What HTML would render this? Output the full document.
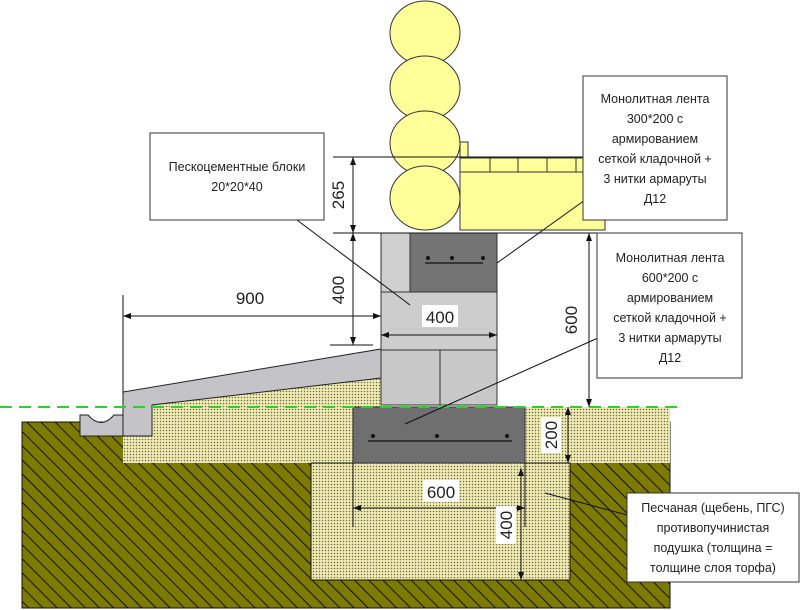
<!DOCTYPE html>
<html><head><meta charset="utf-8"><style>
html,body{margin:0;padding:0;background:#fff}
svg{display:block}
text{font-family:"Liberation Sans",sans-serif;fill:#222}
</style></head><body>
<svg width="800" height="610" viewBox="0 0 800 610" xmlns="http://www.w3.org/2000/svg">
<defs>
<pattern id="hatch" width="10" height="10" patternUnits="userSpaceOnUse" patternTransform="rotate(-45)">
<rect width="10" height="10" fill="#7d7a00"/>
<line x1="0" y1="0" x2="0" y2="10" stroke="#111" stroke-width="2"/>
</pattern>
<pattern id="sand" width="3" height="3" patternUnits="userSpaceOnUse">
<rect width="3" height="3" fill="#efeab0"/>
<circle cx="1.5" cy="1.5" r="0.75" fill="#6e6b50"/>
</pattern>
<marker id="ar" markerWidth="8" markerHeight="6" refX="8" refY="3" orient="auto-start-reverse" markerUnits="userSpaceOnUse">
<path d="M0,0 L8,3 L0,6 z" fill="#111"/>
</marker>
</defs>

<rect x="22" y="422" width="648" height="186" fill="url(#hatch)" stroke="#111"/>
<polygon points="123,395 381,350 381,407 670,407 670,463 123,463" fill="url(#sand)"/>
<rect x="311" y="463" width="259" height="117" fill="url(#sand)" stroke="#111"/>
<rect x="353" y="407" width="172" height="56" fill="#6f6f6f" stroke="#333"/>
<circle cx="373" cy="436" r="2" fill="#111"/><circle cx="437" cy="436" r="2" fill="#111"/><circle cx="507" cy="436" r="2" fill="#111"/>
<line x1="368" y1="441" x2="512" y2="441" stroke="#111" stroke-width="1.2"/>

<polygon points="123,392 381,349 381,378 152,405 152,436 123,436" fill="#c4c4c8" stroke="#222"/>
<path d="M80,415 L88,415 Q101,430 114,415 L123,415 L123,436 L80,436 Z" fill="#c4c4c8" stroke="#222"/>

<rect x="381" y="233" width="116" height="172" fill="#c8c8c8" stroke="#333"/>
<rect x="381" y="233" width="29" height="59" fill="#cfcfcf" stroke="#333"/>
<rect x="410" y="233" width="87" height="59" fill="#747474" stroke="#333"/>
<rect x="381" y="292" width="116" height="58" fill="#cdcdcd" stroke="#333"/>
<line x1="440" y1="350" x2="440" y2="405" stroke="#333"/>
<circle cx="428" cy="258" r="2" fill="#111"/><circle cx="452" cy="258" r="2" fill="#111"/><circle cx="483" cy="258" r="2" fill="#111"/>
<line x1="425" y1="263" x2="483" y2="263" stroke="#111" stroke-width="1.2"/>

<line x1="0" y1="407" x2="680" y2="407" stroke="#3c3" stroke-width="2" stroke-dasharray="12,7"/>

<rect x="460" y="142" width="8" height="16" fill="#ffff99" stroke="#333"/>
<rect x="460" y="158" width="145" height="72" fill="#ffff99" stroke="#333"/>
<line x1="460" y1="172" x2="605" y2="172" stroke="#333"/>
<line x1="490" y1="158" x2="490" y2="172" stroke="#333"/><line x1="518" y1="158" x2="518" y2="172" stroke="#333"/>
<line x1="547" y1="158" x2="547" y2="172" stroke="#333"/><line x1="576" y1="158" x2="576" y2="172" stroke="#333"/>
<ellipse cx="425" cy="33" rx="35" ry="32" fill="#ffff99" stroke="#333"/>
<ellipse cx="425" cy="88" rx="35" ry="32" fill="#ffff99" stroke="#333"/>
<ellipse cx="425" cy="143" rx="35" ry="32" fill="#ffff99" stroke="#333"/>
<ellipse cx="425" cy="198" rx="35" ry="32" fill="#ffff99" stroke="#333"/>

<line x1="333" y1="157" x2="590" y2="157" stroke="#111"/>
<line x1="333" y1="233" x2="600" y2="233" stroke="#111"/>
<line x1="353" y1="157" x2="353" y2="233" stroke="#111" marker-start="url(#ar)" marker-end="url(#ar)"/>
<line x1="353" y1="233" x2="353" y2="345" stroke="#111" marker-start="url(#ar)" marker-end="url(#ar)"/>
<line x1="330" y1="345" x2="373" y2="345" stroke="#111"/>
<text transform="translate(344,195) rotate(-90)" font-size="17" text-anchor="middle">265</text>
<text transform="translate(344,290) rotate(-90)" font-size="17" text-anchor="middle">400</text>
<line x1="123" y1="295" x2="123" y2="395" stroke="#111"/>
<line x1="123" y1="316" x2="381" y2="316" stroke="#111" marker-start="url(#ar)" marker-end="url(#ar)"/>
<text x="250" y="304" font-size="17" text-anchor="middle">900</text>
<line x1="381" y1="335" x2="497" y2="335" stroke="#111" marker-start="url(#ar)" marker-end="url(#ar)"/>
<rect x="422" y="305" width="36" height="22" fill="#fff"/>
<text x="440" y="323" font-size="17" text-anchor="middle">400</text>
<line x1="589" y1="233" x2="589" y2="407" stroke="#111" marker-start="url(#ar)" marker-end="url(#ar)"/>
<text transform="translate(577,320) rotate(-90)" font-size="17" text-anchor="middle">600</text>
<line x1="568" y1="407" x2="568" y2="463" stroke="#111" marker-start="url(#ar)" marker-end="url(#ar)"/>
<rect x="541" y="417" width="20" height="36" fill="#fff"/>
<text transform="translate(557,435) rotate(-90)" font-size="17" text-anchor="middle">200</text>
<line x1="353" y1="463" x2="353" y2="527" stroke="#111"/>
<line x1="525" y1="463" x2="525" y2="527" stroke="#111"/>
<line x1="353" y1="508" x2="525" y2="508" stroke="#111" marker-start="url(#ar)" marker-end="url(#ar)"/>
<rect x="423" y="480" width="36" height="22" fill="#fff"/>
<text x="441" y="498" font-size="17" text-anchor="middle">600</text>
<line x1="521" y1="468" x2="521" y2="580" stroke="#111" marker-start="url(#ar)" marker-end="url(#ar)"/>
<rect x="496" y="506" width="20" height="38" fill="#fff"/>
<text transform="translate(512,525) rotate(-90)" font-size="17" text-anchor="middle">400</text>

<line x1="297" y1="220" x2="410" y2="305" stroke="#111"/>
<line x1="585" y1="200" x2="497" y2="263" stroke="#111"/>
<line x1="598" y1="338" x2="405" y2="424" stroke="#111"/>
<line x1="627" y1="515" x2="545" y2="493" stroke="#111"/>

<rect x="150" y="133" width="174" height="87" fill="#fff" stroke="#333"/>
<text font-size="12.5" text-anchor="middle"><tspan x="237" y="171">Пескоцементные блоки</tspan><tspan x="237" y="191">20*20*40</tspan></text>
<rect x="583" y="76" width="144" height="144" fill="#fff" stroke="#333"/>
<text font-size="12.5" text-anchor="middle"><tspan x="655" y="103">Монолитная лента</tspan><tspan x="655" y="123">300*200 с</tspan><tspan x="655" y="143">армированием</tspan><tspan x="655" y="163">сеткой кладочной +</tspan><tspan x="655" y="183">3 нитки армаруты</tspan><tspan x="655" y="203">Д12</tspan></text>
<rect x="597" y="233" width="145" height="145" fill="#fff" stroke="#333"/>
<text font-size="12.5" text-anchor="middle"><tspan x="670" y="262">Монолитная лента</tspan><tspan x="670" y="282">600*200 с</tspan><tspan x="670" y="302">армированием</tspan><tspan x="670" y="322">сеткой кладочной +</tspan><tspan x="670" y="342">3 нитки армаруты</tspan><tspan x="670" y="362">Д12</tspan></text>
<rect x="627" y="493" width="172" height="89" fill="#fff" stroke="#333"/>
<text font-size="12.5" text-anchor="middle"><tspan x="713" y="512">Песчаная (щебень, ПГС)</tspan><tspan x="713" y="532">противопучинистая</tspan><tspan x="713" y="552">подушка (толщина =</tspan><tspan x="713" y="572">толщине слоя торфа)</tspan></text>
</svg>
</body></html>
